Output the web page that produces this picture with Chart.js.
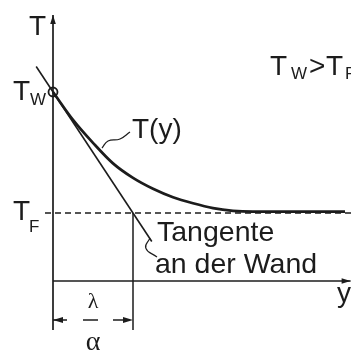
<!DOCTYPE html>
<html>
<head>
<meta charset="UTF-8">
<title>Temperaturprofil an der Wand</title>
<script src="https://cdn.jsdelivr.net/npm/chart.js"></script>
<style>
	body { margin: 0; background: #fff; }
	#wrap { width: 351px; height: 350px; }
</style>
</head>
<body>
<div id="wrap"><canvas id="profil"></canvas></div>
<script>
	// Wandabstand y in Einheiten von lambda/alpha
	const yPos = [0, 0.25, 0.5, 0.75, 1.0, 1.25, 1.5, 1.75, 2.0, 2.25, 2.5, 3.0, 3.65];
	// (T - T_F) / (T_W - T_F)
	const theta = [1, 0.77, 0.58, 0.41, 0.29, 0.20, 0.13, 0.08, 0.04, 0.018, 0.012, 0.012, 0.012];

	// Tangente an der Wand: theta = 1 - y
	const tangentY = [-0.21, 1.235];
	const tangentT = [1.21, -0.235];

	// Achsen und Hilfslinien
	const axisT = [-0.967, 1.636];   // senkrechte Achse (bei y = 0)
	const axisY = [0, 3.72];         // waagrechte Achse
	const axisYLevel = -0.562;
	const fluidLine = [-0.1, 3.725]; // T_F gestrichelt
	const dimLevel = -0.884;         // Massstab lambda/alpha
	const leaderCurve = [[0.6125, 0.537], [0.6875, 0.595], [0.8375, 0.612], [0.9625, 0.669]];
	const leaderTangent = [[1.2125, -0.207], [1.16, -0.29], [1.3, -0.364]];

	const ink = '#1c1c1c';
	const pts = (xs, ys) => xs.map((v, i) => ({x: v, y: ys[i]}));
	const pairs = arr => arr.map(p => ({x: p[0], y: p[1]}));

	function line(data, width, extra) {
		return Object.assign({
			data: data, showLine: true, borderColor: ink, borderWidth: width,
			pointRadius: 0, tension: 0, fill: false
		}, extra || {});
	}

	const datasets = [
		line(pts([0, 0], axisT), 1.7),
		line(pts(axisY, [axisYLevel, axisYLevel]), 1.7),
		line(pts(fluidLine, [0, 0]), 1.5, {borderDash: [6, 4]}),
		line(pts([1, 1], [0, axisT[0]]), 1.5),
		line(pts([0, 1], [dimLevel, dimLevel]), 1.5, {borderDash: [14, 16, 15, 15]}),
		line(pts(tangentY, tangentT), 1.6),
		line(pts(yPos, theta), 2.7, {cubicInterpolationMode: 'monotone'}),
		line(pairs(leaderCurve), 1.2, {tension: 0.45}),
		line(pairs(leaderTangent), 1.2, {tension: 0.5}),
		// Wandtemperatur
		{data: [{x: 0, y: 1}], showLine: false, pointRadius: 4.5, pointBorderWidth: 1.8,
		 pointBackgroundColor: '#fff', pointBorderColor: ink}
	];

	// Pfeilspitzen: Spitze und Richtung in Datenkoordinaten
	const arrows = [
		{tip: [0, axisT[1]], from: [0, 0], len: 9, half: 2.8},
		{tip: [axisY[1], axisYLevel], from: [0, axisYLevel], len: 9, half: 2.8},
		{tip: [0, dimLevel], from: [1, dimLevel], len: 10, half: 3},
		{tip: [1, dimLevel], from: [0, dimLevel], len: 10, half: 3}
	];

	const sans = '"Liberation Sans", Arial, sans-serif';
	const serif = '"Liberation Serif", "DejaVu Serif", serif';
	const labels = [
		{t: 'T', x: -0.3, y: 1.471, size: 28},
		{t: 'T', x: -0.5, y: 0.934, size: 28},
		{t: 'W', x: -0.2875, y: 0.895, size: 17},
		{t: 'T', x: -0.5, y: -0.058, size: 28},
		{t: 'F', x: -0.3, y: -0.157, size: 17},
		{t: 'T', x: 2.7125, y: 1.140, size: 28},
		{t: 'W', x: 2.975, y: 1.107, size: 17},
		{t: '>', x: 3.2, y: 1.140, size: 28},
		{t: 'T', x: 3.4125, y: 1.140, size: 28},
		{t: 'F', x: 3.65, y: 1.107, size: 17},
		{t: 'T(y)', x: 0.9875, y: 0.62, size: 28},
		{t: 'Tangente', x: 1.3, y: -0.231, size: 28.5},
		{t: 'an der Wand', x: 1.275, y: -0.496, size: 28.5},
		{t: 'y', x: 3.55, y: -0.736, size: 28},
		{t: 'λ', x: 0.5, y: -0.785, size: 22, font: serif, align: 'center'},
		{t: 'α', x: 0.5, y: -1.132, size: 28, font: serif, align: 'center'}
	];

	const decor = {
		id: 'decor',
		afterDatasetsDraw(chart) {
			const ctx = chart.ctx;
			const sx = chart.scales.x, sy = chart.scales.y;
			ctx.save();
			ctx.fillStyle = ink;
			arrows.forEach(function(a) {
				const tx = sx.getPixelForValue(a.tip[0]), ty = sy.getPixelForValue(a.tip[1]);
				const fx = sx.getPixelForValue(a.from[0]), fy = sy.getPixelForValue(a.from[1]);
				const ang = Math.atan2(ty - fy, tx - fx);
				ctx.save();
				ctx.translate(tx, ty);
				ctx.rotate(ang);
				ctx.beginPath();
				ctx.moveTo(0, 0);
				ctx.lineTo(-a.len, -a.half);
				ctx.lineTo(-a.len, a.half);
				ctx.closePath();
				ctx.fill();
				ctx.restore();
			});
			ctx.textBaseline = 'alphabetic';
			labels.forEach(function(l) {
				ctx.font = l.size + 'px ' + (l.font || sans);
				ctx.textAlign = l.align || 'left';
				ctx.fillText(l.t, sx.getPixelForValue(l.x), sy.getPixelForValue(l.y));
			});
			ctx.restore();
		}
	};

	new Chart(document.getElementById('profil'), {
		type: 'scatter',
		data: {datasets: datasets},
		options: {
			responsive: true,
			maintainAspectRatio: false,
			animation: false,
			layout: {padding: 0, autoPadding: false},
			plugins: {legend: {display: false}, tooltip: {enabled: false}},
			scales: {
				x: {type: 'linear', min: -0.6625, max: 3.725, display: false},
				y: {type: 'linear', min: -1.132, max: 1.760, display: false}
			}
		},
		plugins: [decor]
	});
</script>
</body>
</html>
